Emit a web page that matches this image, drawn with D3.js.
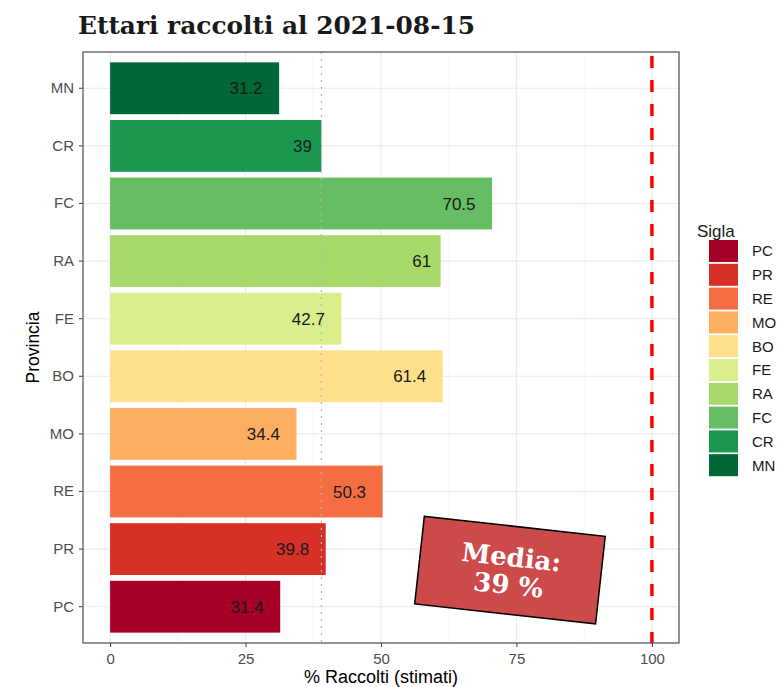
<!DOCTYPE html>
<html>
<head>
<meta charset="utf-8">
<script src="https://cdn.jsdelivr.net/npm/d3@7"></script>
<style>
  body { margin: 0; background: #fff; }
  svg { display: block; }
</style>
</head>
<body>
<svg id="chart" width="777" height="687"></svg>
<script>
// Province codes, bottom to top as listed in the legend
const provinces = ["PC", "PR", "RE", "MO", "BO", "FE", "RA", "FC", "CR", "MN"];
// Share of harvested hectares (%), estimated
const harvested = [31.4, 39.8, 50.3, 34.4, 61.4, 42.7, 61, 70.5, 39, 31.2];
const fillColors = ["#a50026", "#d73027", "#f46d43", "#fdae61", "#fee08b",
                    "#d9ef8b", "#a6d96a", "#66bd63", "#1a9850", "#006837"];
const xTicks = [0, 25, 50, 75, 100];
const meanValue = 39;
const targetValue = 100;
const titleText = "Ettari raccolti al 2021-08-15";

const sans = "Liberation Sans, Arial, sans-serif";
const serif = "DejaVu Serif, serif";

const svg = d3.select("#chart");
const panel = { left: 83, top: 52, right: 679, bottom: 643 };

const x = d3.scaleLinear().domain([-5, 105]).range([panel.left, panel.right]);
// Categories laid out top to bottom: MN first
const order = provinces.slice().reverse();
const y = d3.scaleBand().domain(order)
  .range([panel.top, panel.bottom]).paddingInner(0.1).paddingOuter(0.18);

const color = d3.scaleOrdinal().domain(provinces).range(fillColors);
const data = provinces.map((p, i) => ({ p, v: harvested[i] }));

// Panel background and grid
svg.append("rect").attr("x", panel.left).attr("y", panel.top)
  .attr("width", panel.right - panel.left).attr("height", panel.bottom - panel.top)
  .attr("fill", "#fff");

const grid = svg.append("g");
const minor = [12.5, 37.5, 62.5, 87.5];
grid.selectAll(".minor").data(minor).join("line")
  .attr("x1", d => x(d)).attr("x2", d => x(d))
  .attr("y1", panel.top).attr("y2", panel.bottom)
  .attr("stroke", "#f2f2f2").attr("stroke-width", 0.6);
grid.selectAll(".major").data(xTicks).join("line")
  .attr("x1", d => x(d)).attr("x2", d => x(d))
  .attr("y1", panel.top).attr("y2", panel.bottom)
  .attr("stroke", "#ebebeb").attr("stroke-width", 1.1);
grid.selectAll(".hmajor").data(order).join("line")
  .attr("x1", panel.left).attr("x2", panel.right)
  .attr("y1", d => y(d) + y.bandwidth() / 2).attr("y2", d => y(d) + y.bandwidth() / 2)
  .attr("stroke", "#ebebeb").attr("stroke-width", 1.1);

// Bars
svg.append("g").selectAll("rect").data(data).join("rect")
  .attr("x", x(0))
  .attr("y", d => y(d.p))
  .attr("width", d => x(d.v) - x(0))
  .attr("height", y.bandwidth())
  .attr("fill", d => color(d.p));

// Mean reference line (dotted)
svg.append("line")
  .attr("x1", x(meanValue)).attr("x2", x(meanValue))
  .attr("y1", panel.top).attr("y2", panel.bottom)
  .attr("stroke", "#b5b5b5").attr("stroke-width", 1.2)
  .attr("stroke-dasharray", "2,5");

// Target line (red dashed)
svg.append("line")
  .attr("x1", x(targetValue)).attr("x2", x(targetValue))
  .attr("y1", panel.top + 4).attr("y2", panel.bottom)
  .attr("stroke", "#ff0000").attr("stroke-width", 3.5)
  .attr("stroke-dasharray", "12,12");

// Value labels, placed inside the bar end (hjust 1.5)
svg.append("g").selectAll("text").data(data).join("text")
  .attr("y", d => y(d.p) + y.bandwidth() / 2)
  .attr("dy", "0.36em")
  .attr("text-anchor", "end")
  .attr("font-family", sans)
  .attr("font-size", 17)
  .attr("fill", "#1a1a1a")
  .text(d => d.v)
  .attr("x", function (d) { return x(d.v) - 0.5 * this.getComputedTextLength(); });

// Panel border
svg.append("rect").attr("x", panel.left).attr("y", panel.top)
  .attr("width", panel.right - panel.left).attr("height", panel.bottom - panel.top)
  .attr("fill", "none").attr("stroke", "#4d4d4d").attr("stroke-width", 1.2);

// Axes
const xAxis = svg.append("g").attr("transform", `translate(0,${panel.bottom})`)
  .call(d3.axisBottom(x).tickValues(xTicks).tickSize(4).tickPadding(6));
const yAxis = svg.append("g").attr("transform", `translate(${panel.left},0)`)
  .call(d3.axisLeft(y).tickSize(4).tickPadding(5));
[xAxis, yAxis].forEach(a => {
  a.select(".domain").remove();
  a.selectAll(".tick line").attr("stroke", "#4d4d4d").attr("stroke-width", 1.1);
  a.selectAll(".tick text").attr("fill", "#4d4d4d")
    .attr("font-family", sans).attr("font-size", 15);
});

// Axis titles
svg.append("text")
  .attr("x", (panel.left + panel.right) / 2).attr("y", 683)
  .attr("text-anchor", "middle")
  .attr("font-family", sans).attr("font-size", 18)
  .attr("fill", "#000").text("% Raccolti (stimati)");
svg.append("text")
  .attr("transform", `translate(39,${(panel.top + panel.bottom) / 2}) rotate(-90)`)
  .attr("text-anchor", "middle")
  .attr("font-family", sans).attr("font-size", 17.5)
  .attr("fill", "#000").text("Provincia");

// Title
svg.append("text")
  .attr("x", 78).attr("y", 34)
  .attr("font-family", serif).attr("font-weight", "bold")
  .attr("font-size", 24)
  .attr("textLength", 397).attr("lengthAdjust", "spacingAndGlyphs")
  .attr("fill", "#1a1a1a").text(titleText);

// Legend
const legend = svg.append("g").attr("transform", "translate(697,0)");
legend.append("text").attr("x", 0).attr("y", 237)
  .attr("font-family", sans).attr("font-size", 17)
  .attr("fill", "#1a1a1a").text("Sigla");
const item = legend.selectAll(".item").data(provinces).join("g")
  .attr("transform", (d, i) => `translate(12,${240 + i * 23.8})`);
item.append("rect").attr("width", 29).attr("height", 22).attr("fill", d => color(d));
item.append("text").attr("x", 43).attr("y", 11).attr("dy", "0.36em")
  .attr("font-family", sans).attr("font-size", 15)
  .attr("fill", "#1a1a1a").text(d => d);

// Rotated annotation box with the mean
const boxCx = x(73.8);
const boxCy = y("PR") + y.bandwidth() / 2 + 21;
const note = svg.append("g").attr("transform", `translate(${boxCx},${boxCy}) rotate(6.3)`);
note.append("rect").attr("x", -91).attr("y", -44).attr("width", 182).attr("height", 88)
  .attr("fill", "#cd4a4a").attr("stroke", "#000").attr("stroke-width", 1.5);
note.selectAll("text").data(["Media:", meanValue + " %"]).join("text")
  .attr("x", 0).attr("y", (d, i) => -4 + i * 28)
  .attr("text-anchor", "middle")
  .attr("font-family", serif).attr("font-weight", "bold")
  .attr("font-size", 26).attr("fill", "#fff").text(d => d);
</script>
</body>
</html>
